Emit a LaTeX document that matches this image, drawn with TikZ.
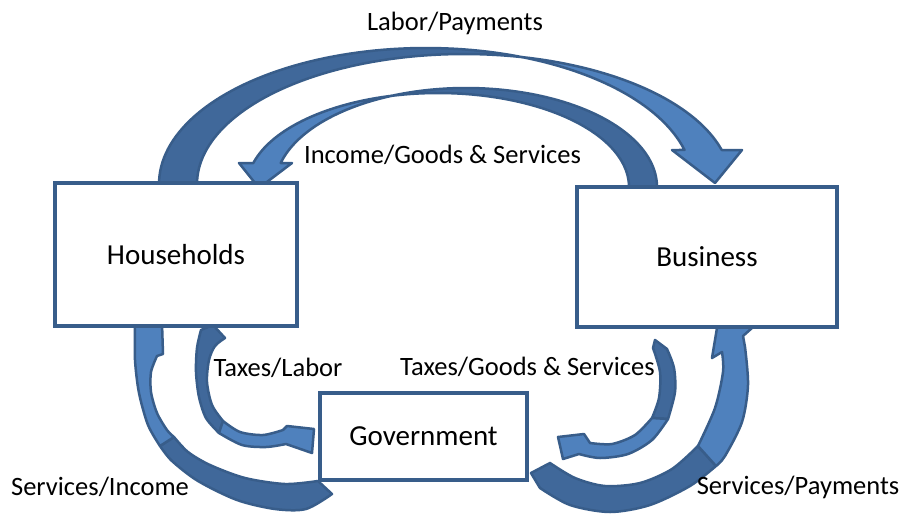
\documentclass[tikz,border=0pt]{standalone}
\usepackage{fontspec}
\setmainfont{Carlito}
\definecolor{frontblue}{HTML}{4F81BD}
\definecolor{backblue}{HTML}{40689A}
\definecolor{edgeblue}{HTML}{385D8A}
\tikzset{
  face/.style={draw=edgeblue, line width=2.5pt, line join=round},
  frontface/.style={face, fill=frontblue},
  backface/.style={face, fill=backblue},
  box/.style={draw=edgeblue, line width=4pt, fill=white, inner sep=0pt, font=\fontsize{29}{34}\selectfont},
  flowlabel/.style={font=\fontsize{26.5}{31}\selectfont, anchor=base, inner sep=0pt},
}
\begin{document}
\begin{tikzpicture}[x=1pt, y=-1pt]
\useasboundingbox (0,0) rectangle (904,514);
\fill[white] (0,0) rectangle (904,514);

% ---- Labor/Payments arc (Households -> Business)
\filldraw[backface] plot[domain=180:291.1, samples=60] ({426+267*cos(\x)},{184+136*sin(\x)})
  -- plot[domain=282.6:180, samples=60] ({464+267*cos(\x)},{184+130*sin(\x)}) -- cycle;
\filldraw[frontface] plot[domain=291.1:345.52, samples=40] ({426+267*cos(\x)},{184+136*sin(\x)})
  -- (672,150) -- (715,183) -- (742,150)
  -- plot[domain=344.84:282.6, samples=40] ({464+267*cos(\x)},{184+130*sin(\x)}) -- cycle;

% ---- Income/Goods & Services arc (Business -> Households)
\filldraw[backface] plot[domain=360:247.07, samples=60] ({466+191*cos(\x)},{187+99*sin(\x)})
  -- plot[domain=255.9:360, samples=60] ({438+191*cos(\x)},{187+94*sin(\x)}) -- cycle;
\filldraw[frontface] plot[domain=247.07:194.03, samples=40] ({466+191*cos(\x)},{187+99*sin(\x)})
  -- (292,163) -- (259,188) -- (239,163)
  -- plot[domain=194.79:255.9, samples=40] ({438+191*cos(\x)},{187+94*sin(\x)}) -- cycle;

% ---- Taxes/Labor (Households -> Government)
\filldraw[backface] (213,325) -- (201,330)
  -- plot[smooth] coordinates {(201,330) (197,348) (196,372) (199,397) (206,418) (219,433)}
  -- plot[smooth] coordinates {(223,421) (212,405) (207,382) (209,360) (215,346) (225,338)} -- cycle;
\filldraw[frontface] plot[smooth] coordinates {(219,433) (242,445) (266,447) (286,444)}
  -- (312,453) -- (314,429) -- (287,426)
  -- plot[smooth] coordinates {(283,430) (263,435) (240,432) (223,421)} -- cycle;

% ---- Services/Income (Government -> Households)
\filldraw[backface] plot[smooth] coordinates {(160,446) (172,461) (198,481) (237,500) (275,509) (306,509) (332,494)}
  -- (318,481)
  -- plot[smooth] coordinates {(318,481) (285,484) (245,478) (210,465) (188,452) (174,437)} -- cycle;
\filldraw[frontface] (135,326) -- (162,323) -- (163,354) -- (157,356)
  -- plot[smooth] coordinates {(157,356) (151,372) (151,392) (157,413) (167,430) (174,437)}
  -- plot[smooth] coordinates {(160,446) (148,425) (139,393) (135,360) (135,326)} -- cycle;

% ---- Taxes/Goods & Services (Business -> Government)
\filldraw[backface] (655,340) -- (667,349)
  -- plot[smooth] coordinates {(667,349) (674,368) (675,392) (668,419)}
  -- plot[smooth] coordinates {(652,418) (659,398) (660,372) (653,348)} -- cycle;
\filldraw[frontface] plot[smooth] coordinates {(668,419) (652,440) (628,454) (600,458) (579,454)}
  -- (563,459) -- (558,437) -- (584,434)
  -- plot[smooth] coordinates {(590,443) (612,444) (635,435) (652,418)} -- cycle;

% ---- Services/Payments (Government -> Business)
\filldraw[backface] plot[smooth] coordinates {(716,466) (690,486) (650,505) (610,512) (570,505) (540,488)}
  -- (531,473) -- (550,463)
  -- plot[smooth] coordinates {(550,463) (575,478) (605,486) (640,483) (672,469) (698,446)} -- cycle;
\filldraw[frontface] plot[smooth] coordinates {(698,446) (715,408) (723,372) (722,352)}
  -- (712,358) -- (718,322) -- (752,328) -- (743,336)
  -- plot[smooth] coordinates {(745,347) (748,385) (742,422) (725,456) (716,466)} -- cycle;

% ---- boxes
\node[box, minimum width=242pt, minimum height=143pt] (hh) at (176,254.5) {Households};
\node[box, minimum width=260pt, minimum height=140pt] (bus) at (707,257) {Business};
\node[box, minimum width=207pt, minimum height=87pt] (gov) at (423.5,436.5) {Government};

% ---- labels
\node[flowlabel] (l1) at (455,30) {Labor/Payments};
\node[flowlabel] (l2) at (442.5,163) {Income/Goods \& Services};
\node[flowlabel] (l3) at (278,376) {Taxes/Labor};
\node[flowlabel] (l4) at (527.5,375.5) {Taxes/Goods \& Services};
\node[flowlabel] (l5) at (100,495) {Services/Income};
\node[flowlabel] (l6) at (798,494) {Services/Payments};
\end{tikzpicture}
\end{document}
